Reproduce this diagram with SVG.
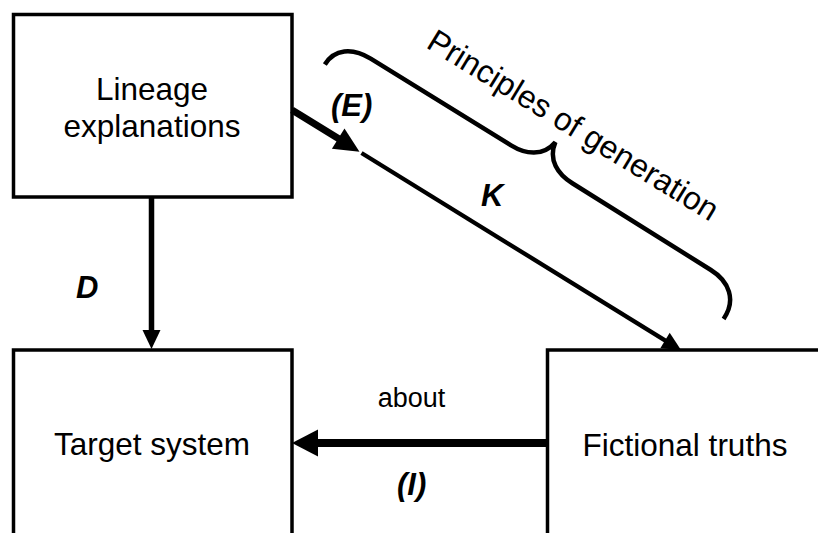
<svg xmlns="http://www.w3.org/2000/svg" width="818" height="533" viewBox="0 0 818 533">
  <style>
    .box { fill: #fff; stroke: #000; stroke-width: 3.5; }
    .label { font-family: "Liberation Sans", Arial, sans-serif; font-size: 31.5px; fill: #000; text-anchor: middle; }
    .rel { font-family: "Liberation Sans", Arial, sans-serif; font-size: 31px; font-weight: bold; font-style: italic; fill: #000; }
    .small { font-family: "Liberation Sans", Arial, sans-serif; font-size: 27px; fill: #000; text-anchor: middle; }
    .line { fill: none; stroke: #000; stroke-linecap: butt; }
    .head { fill: #000; stroke: none; }
  </style>
  <rect width="818" height="533" fill="#fff"/>

  <!-- nodes -->
  <g id="lineage">
    <rect class="box" x="13.5" y="14.5" width="278.5" height="182.5"/>
    <text class="label" x="152" y="100">Lineage</text>
    <text class="label" x="152" y="137">explanations</text>
  </g>
  <g id="target">
    <rect class="box" x="13.5" y="350" width="278.5" height="200"/>
    <text class="label" x="152" y="455">Target system</text>
  </g>
  <g id="fictional">
    <rect class="box" x="547.5" y="350" width="300" height="200"/>
    <text class="label" x="685" y="456">Fictional truths</text>
  </g>

  <!-- connectors -->
  <g id="connectors">
    <!-- D: lineage explanations to target system -->
    <line class="line" x1="151.5" y1="197" x2="151.5" y2="332" stroke-width="5.5"/>
    <polygon class="head" points="151.5,349 142.5,330 160.5,330"/>
    <!-- (E) then K: lineage explanations to fictional truths -->
    <line class="line" x1="292" y1="110" x2="340" y2="139.6" stroke-width="7"/>
    <polygon class="head" points="359.5,151.7 331.9,148.8 344.5,128.4"/>
    <line class="line" x1="361.5" y1="153" x2="667" y2="341.6" stroke-width="4.3"/>
    <polygon class="head" points="681,350 660.3,348.2 669.7,332.8"/>
    <!-- (I): fictional truths about target system -->
    <line class="line" x1="547.5" y1="443" x2="314" y2="443" stroke-width="8"/>
    <polygon class="head" points="292,443 318,429.5 318,456.5"/>
  </g>

  <!-- brace over the K arrow -->
  <g id="principles">
    <path class="line" stroke-width="4.5" transform="translate(292,110) rotate(31.7)"
          d="M 4,-56 C 4,-74 18,-85 40,-85 L 205,-85 C 222,-85 238,-92 241,-111 C 244,-92 260,-85 277,-85 L 440,-84 C 462,-84 478,-72 477,-49"/>
    <text class="label" style="text-anchor:start;font-size:32px" transform="translate(425,47) rotate(31.5)">Principles of generation</text>
  </g>

  <!-- relation labels -->
  <text class="rel" x="76" y="298">D</text>
  <text class="rel" x="331" y="116">(E)</text>
  <text class="rel" x="481" y="206">K</text>
  <text class="small" x="411.5" y="407">about</text>
  <text class="rel" x="397" y="495">(I)</text>
</svg>
